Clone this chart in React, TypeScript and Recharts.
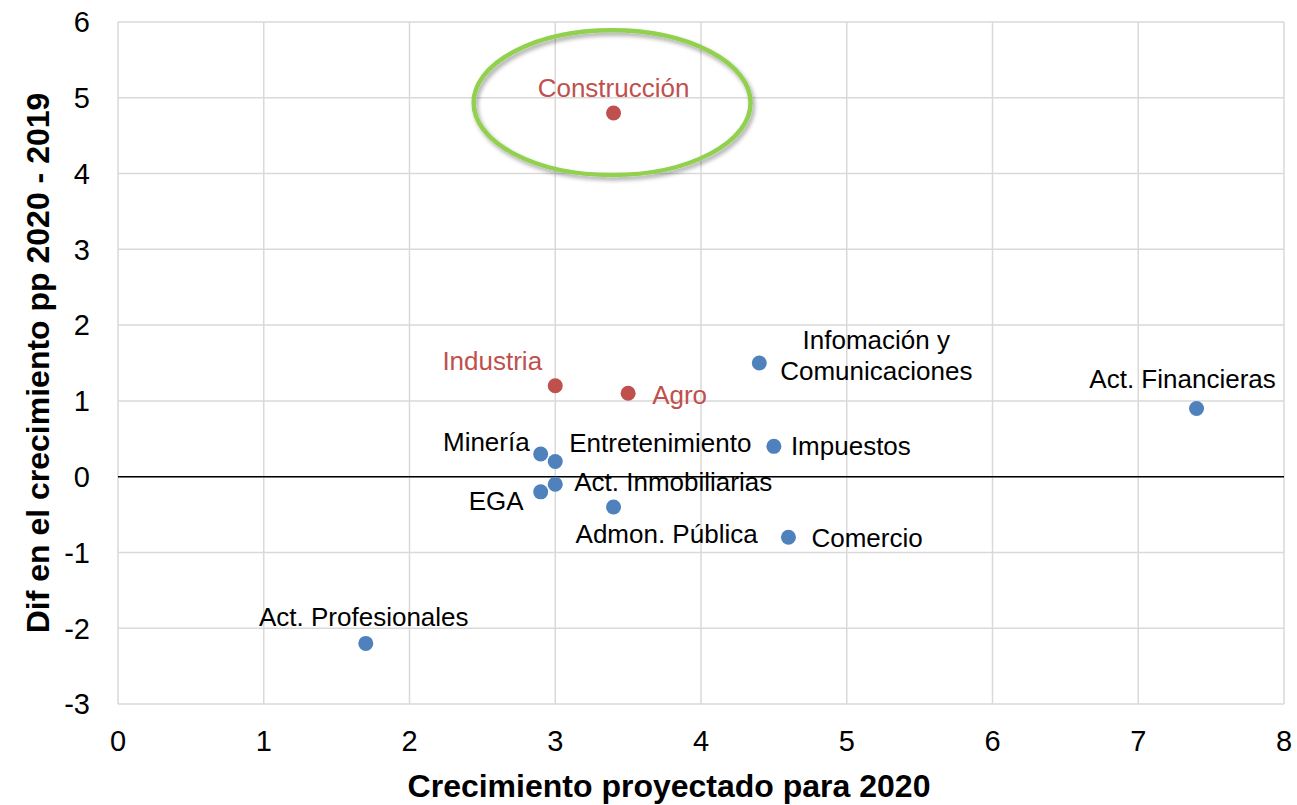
import {
  ScatterChart,
  Scatter,
  XAxis,
  YAxis,
  CartesianGrid,
  ReferenceLine,
  ReferenceArea,
} from "recharts";

const SECTORS = [
  "Construcción",
  "Industria",
  "Agro",
  "Infomación y Comunicaciones",
  "Act. Financieras",
  "Minería",
  "Entretenimiento",
  "Impuestos",
  "Act. Inmobiliarias",
  "EGA",
  "Admon. Pública",
  "Comercio",
  "Act. Profesionales",
];
const GROWTH_2020 = [3.4, 3.0, 3.5, 4.4, 7.4, 2.9, 3.0, 4.5, 3.0, 2.9, 3.4, 4.6, 1.7];
const DIFF_PP = [4.8, 1.2, 1.1, 1.5, 0.9, 0.3, 0.2, 0.4, -0.1, -0.2, -0.4, -0.8, -2.2];
const HIGHLIGHTED = ["Construcción", "Industria", "Agro"];

const X_TICKS = [0, 1, 2, 3, 4, 5, 6, 7, 8];
const Y_TICKS = [-3, -2, -1, 0, 1, 2, 3, 4, 5, 6];

const BLUE = "#4F81BD";
const RED = "#C0504D";
const GREEN = "#92D050";
const FONT = "'Liberation Sans', Arial, sans-serif";

// where each label sits relative to its dot
const LABELS: Record<string, { dx: number; dy: number; anchor: string; lines?: string[] }> = {
  "Construcción": { dx: 0, dy: -25, anchor: "middle" },
  Industria: { dx: -63, dy: -25, anchor: "middle" },
  Agro: { dx: 24, dy: 2, anchor: "start" },
  "Infomación y Comunicaciones": {
    dx: 117,
    dy: -23,
    anchor: "middle",
    lines: ["Infomación y", "Comunicaciones"],
  },
  "Act. Financieras": { dx: -14, dy: -29, anchor: "middle" },
  "Minería": { dx: -11, dy: -12, anchor: "end" },
  Entretenimiento: { dx: 14, dy: -19, anchor: "start" },
  Impuestos: { dx: 17, dy: 0, anchor: "start" },
  "Act. Inmobiliarias": { dx: 19, dy: -2, anchor: "start" },
  EGA: { dx: -17, dy: 9, anchor: "end" },
  "Admon. Pública": { dx: -38, dy: 27, anchor: "start" },
  Comercio: { dx: 23, dy: 1, anchor: "start" },
  "Act. Profesionales": { dx: -2, dy: -26, anchor: "middle" },
};

const points = SECTORS.map((name, i) => ({
  name,
  x: GROWTH_2020[i],
  y: DIFF_PP[i],
}));
const redPoints = points.filter((p) => HIGHLIGHTED.includes(p.name));
const bluePoints = points.filter((p) => !HIGHLIGHTED.includes(p.name));

function makeDot(color: string, textColor: string) {
  return (props: any) => {
    const { cx, cy, payload } = props;
    const lab = LABELS[payload.name];
    const lines = lab.lines || [payload.name];
    return (
      <g>
        <circle cx={cx} cy={cy} r={7.5} fill={color} />
        <text
          x={cx + lab.dx}
          y={cy + lab.dy}
          textAnchor={lab.anchor as any}
          dominantBaseline="central"
          fontFamily={FONT}
          fontSize={26}
          fill={textColor}
        >
          {lines.map((l, k) => (
            <tspan key={k} x={cx + lab.dx} dy={k === 0 ? 0 : 31}>
              {l}
            </tspan>
          ))}
        </text>
      </g>
    );
  };
}

const ellipseShape = (p: any) => (
  <g>
    <defs>
      <filter id="ellShadow" x="-20%" y="-20%" width="140%" height="140%">
        <feDropShadow dx="2" dy="3" stdDeviation="2" floodColor="#000" floodOpacity="0.35" />
      </filter>
    </defs>
    <ellipse
      cx={p.x + p.width / 2}
      cy={p.y + p.height / 2}
      rx={p.width / 2}
      ry={p.height / 2}
      fill="none"
      stroke={GREEN}
      strokeWidth={4.5}
      filter="url(#ellShadow)"
    />
  </g>
);

export default function App() {
  return (
    <div style={{ position: "absolute", left: 0, top: 0, background: "#fff" }}>
      <ScatterChart
        width={1297}
        height={805}
        margin={{ top: 22, right: 13, left: 0, bottom: 0 }}
      >
        <CartesianGrid stroke="#D9D9D9" strokeWidth={1.5} />
        <XAxis
          type="number"
          dataKey="x"
          domain={[0, 8]}
          ticks={X_TICKS}
          axisLine={false}
          tickLine={false}
          tickSize={0}
          tickMargin={26}
          height={101}
          tick={{ fontFamily: FONT, fontSize: 29, fill: "#000" }}
          label={{
            content: (props: any) => {
              const vb = props.viewBox;
              return (
                <text
                  x={vb.x + vb.width / 2 - 32}
                  y={797}
                  textAnchor="middle"
                  fontFamily={FONT}
                  fontSize={32}
                  fontWeight="bold"
                  fill="#000"
                >
                  Crecimiento proyectado para 2020
                </text>
              );
            },
          }}
        />
        <YAxis
          type="number"
          dataKey="y"
          domain={[-3, 6]}
          ticks={Y_TICKS}
          axisLine={false}
          tickLine={false}
          tickSize={0}
          tickMargin={28}
          width={118}
          tick={{ fontFamily: FONT, fontSize: 29, fill: "#000" }}
          label={{
            content: (props: any) => {
              const vb = props.viewBox;
              const cy = vb.y + vb.height / 2;
              return (
                <text
                  x={38}
                  y={cy}
                  transform={`rotate(-90, 38, ${cy})`}
                  textAnchor="middle"
                  dominantBaseline="central"
                  fontFamily={FONT}
                  fontSize={32}
                  fontWeight="bold"
                  fill="#000"
                >
                  Dif en el crecimiento pp 2020 - 2019
                </text>
              );
            },
          }}
        />
        <ReferenceLine y={0} stroke="#000" strokeWidth={1.5} />
        <ReferenceArea
          x1={2.44}
          x2={4.34}
          y1={3.98}
          y2={5.89}
          ifOverflow="visible"
          shape={ellipseShape}
        />
        <Scatter
          data={bluePoints}
          isAnimationActive={false}
          shape={makeDot(BLUE, "#000")}
        />
        <Scatter
          data={redPoints}
          isAnimationActive={false}
          shape={makeDot(RED, RED)}
        />
      </ScatterChart>
    </div>
  );
}
